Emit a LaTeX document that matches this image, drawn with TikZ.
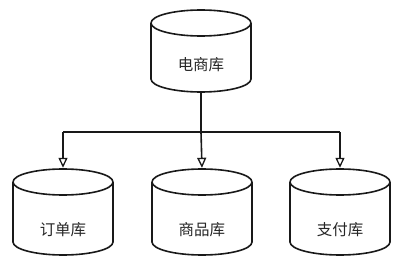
\documentclass[tikz,border=0pt]{standalone}
\usepackage{fontspec}
\newfontfamily\cjk{Noto Sans CJK SC}
\usetikzlibrary{arrows.meta}
\tikzset{
  cylline/.style={line width=1.6pt, draw=black!90, line join=round},
  cylbox/.style={draw=none, minimum width=100pt, inner sep=0pt},
  lbl/.style={font=\cjk\fontsize{15.5pt}{18pt}\selectfont, text=black!85, inner sep=1pt},
  conn/.style={line width=1.6pt, draw=black!90, -{Triangle[open, length=10pt, width=9pt, line width=1.3pt]}},
  connline/.style={line width=1.6pt, draw=black!90}
}
\newcommand{\dbcyl}[6]{% name, cx, ytop, ybot, text y, text
  \node[cylbox, minimum height={#3-#4}] (#1) at (#2,{(#3+#4)/2}) {};
  \draw[cylline] (#2-50,#3-13) -- (#2-50,#4+13)
     arc[start angle=180,end angle=360,x radius=50pt,y radius=13pt] -- (#2+50,#3-13);
  \draw[cylline] (#2,#3-13) ellipse[x radius=50pt,y radius=13pt];
  \node[lbl] (#1t) at (#2,#5) {#6};
}
\begin{document}
\begin{tikzpicture}[x=1pt,y=1pt]
  \useasboundingbox (0,0) rectangle (400,266);
  \fill[white] (0,0) rectangle (400,266);
  \dbcyl{top}{201}{256}{174}{201}{电商库}
  \dbcyl{a}{63}{97}{11}{36}{订单库}
  \dbcyl{b}{202}{97}{11}{36}{商品库}
  \dbcyl{c}{340}{97}{11}{36}{支付库}
  \coordinate (j) at (top.south |- 0,134);
  \coordinate (jl) at (a.north |- j);
  \coordinate (jr) at (c.north |- j);
  \draw[connline] (top.south) -- (j);
  \draw[connline] (jl) -- (jr);
  \draw[conn] (jl) -- ([yshift=1pt]a.north);
  \draw[conn] (j) -- ([yshift=1pt]b.north);
  \draw[conn] (jr) -- ([yshift=1pt]c.north);
\end{tikzpicture}
\end{document}
